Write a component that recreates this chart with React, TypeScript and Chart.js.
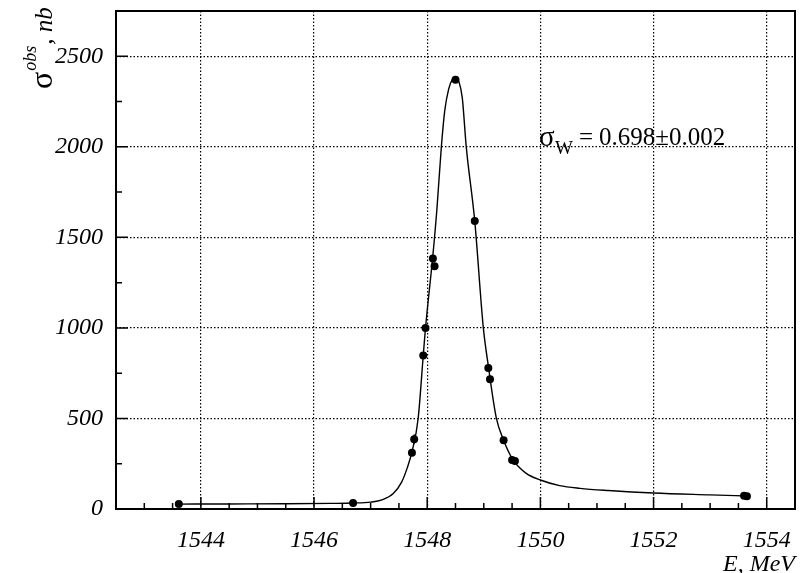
import React, { useEffect, useRef } from "react";
import { Chart, registerables } from "chart.js";

Chart.register(...registerables);

// Measured points (E in MeV, observed cross section in nb)
const pointEnergy = [1543.61, 1546.69, 1547.73, 1547.77, 1547.93, 1547.97, 1548.1, 1548.13, 1548.5, 1548.84, 1549.08, 1549.11, 1549.35, 1549.5, 1549.55, 1553.6, 1553.65];
const pointSigma = [28, 33, 311, 385, 848, 1000, 1383, 1341, 2371, 1591, 778, 717, 379, 270, 265, 73, 71];
const pointError = [3, 3, 12, 28, 14, 15, 15, 15, 15, 15, 12, 12, 10, 8, 8, 4, 4];

// Fitted curve
const curveEnergy = [1543.61, 1544.5, 1545.5, 1546.3, 1546.69, 1547.0, 1547.2, 1547.4, 1547.55, 1547.65, 1547.73, 1547.84, 1547.93, 1547.97, 1548.1, 1548.17, 1548.25, 1548.31, 1548.38, 1548.44, 1548.5, 1548.56, 1548.62, 1548.69, 1548.84, 1548.99, 1549.08, 1549.22, 1549.35, 1549.52, 1549.75, 1550.0, 1550.34, 1550.7, 1551.2, 1552.0, 1553.0, 1553.65];
const curveSigma = [27, 28, 29, 31, 33, 38, 50, 85, 150, 230, 315, 500, 848, 1000, 1400, 1650, 2000, 2200, 2320, 2370, 2382, 2360, 2270, 2000, 1591, 1006, 790, 505, 380, 270, 197, 160, 129, 114, 102, 88, 78, 72];

// Axes
const xMajorTicks = [1544, 1546, 1548, 1550, 1552, 1554];
const xMinorTicks = [1542.5, 1543, 1543.5, 1544.5, 1545, 1545.5, 1546.5, 1547, 1547.5, 1548.5, 1549, 1549.5, 1550.5, 1551, 1551.5, 1552.5, 1553, 1553.5, 1554.5];
const yMajorTicks = [0, 500, 1000, 1500, 2000, 2500];
const yMinorTicks = [250, 750, 1250, 1750, 2250];
const xMin = 1542.5;
const xMax = 1554.5;
const yMin = 0;
const yMax = 2750;

const xTitle = "E, MeV";
const annotationValue = "0.698\u00B10.002";

const SERIF = '"Liberation Serif", "DejaVu Serif", serif';

const decorPlugin = {
  id: "decor",
  afterDatasetsDraw(chart: any) {
    const { ctx } = chart;
    const xs = chart.scales.x;
    const ys = chart.scales.y;
    ctx.save();
    ctx.strokeStyle = "#000";
    ctx.lineWidth = 1.2;
    for (let i = 0; i < pointEnergy.length; i++) {
      const px = xs.getPixelForValue(pointEnergy[i]);
      const y1 = ys.getPixelForValue(pointSigma[i] - pointError[i]);
      const y2 = ys.getPixelForValue(pointSigma[i] + pointError[i]);
      ctx.beginPath();
      ctx.moveTo(px, y1);
      ctx.lineTo(px, y2);
      ctx.stroke();
    }
    ctx.restore();
  },
  afterDraw(chart: any) {
    const { ctx, chartArea: a } = chart;
    const xs = chart.scales.x;
    const ys = chart.scales.y;
    ctx.save();
    ctx.strokeStyle = "#000";
    ctx.lineWidth = 1.5;
    ctx.setLineDash([]);
    const majorLen = 12;
    const minorLen = 6;
    ctx.beginPath();
    xMajorTicks.forEach((v) => {
      const p = xs.getPixelForValue(v);
      ctx.moveTo(p, a.bottom);
      ctx.lineTo(p, a.bottom - majorLen);
    });
    xMinorTicks.forEach((v) => {
      const p = xs.getPixelForValue(v);
      ctx.moveTo(p, a.bottom);
      ctx.lineTo(p, a.bottom - minorLen);
    });
    yMajorTicks.forEach((v) => {
      const p = ys.getPixelForValue(v);
      ctx.moveTo(a.left, p);
      ctx.lineTo(a.left + majorLen, p);
    });
    yMinorTicks.forEach((v) => {
      const p = ys.getPixelForValue(v);
      ctx.moveTo(a.left, p);
      ctx.lineTo(a.left + minorLen, p);
    });
    ctx.stroke();

    // frame
    ctx.lineWidth = 2;
    ctx.strokeRect(a.left, a.top, a.right - a.left, a.bottom - a.top);

    // x axis title
    ctx.fillStyle = "#000";
    ctx.textAlign = "right";
    ctx.textBaseline = "alphabetic";
    ctx.font = `italic 24px ${SERIF}`;
    ctx.fillText(xTitle, a.right, 571);

    // y axis title (rotated)
    ctx.save();
    ctx.translate(52, 89);
    ctx.rotate(-Math.PI / 2);
    ctx.textAlign = "left";
    ctx.font = `32px ${SERIF}`;
    ctx.fillText("\u03C3", 0, 0);
    let w = ctx.measureText("\u03C3").width;
    ctx.font = `italic 18px ${SERIF}`;
    ctx.fillText("obs", w + 1, -16);
    w += ctx.measureText("obs").width + 2;
    ctx.font = `italic 25px ${SERIF}`;
    ctx.fillText(", nb", w, 0);
    ctx.restore();

    // annotation
    ctx.textAlign = "left";
    ctx.font = `29px ${SERIF}`;
    ctx.fillText("\u03C3", 539, 146);
    ctx.font = `19px ${SERIF}`;
    ctx.fillText("W", 555, 154);
    ctx.font = `25px ${SERIF}`;
    ctx.fillText("=", 579, 145);
    ctx.fillText(annotationValue, 599, 145);
    ctx.restore();
  },
};

export default function App() {
  const canvasRef = useRef<HTMLCanvasElement | null>(null);

  useEffect(() => {
    const canvas = canvasRef.current;
    if (!canvas) return;
    const chart = new Chart(canvas, {
      type: "scatter",
      data: {
        datasets: [
          {
            label: "fit",
            data: curveEnergy.map((e, i) => ({ x: e, y: curveSigma[i] })),
            showLine: true,
            borderColor: "#000",
            borderWidth: 1.4,
            pointRadius: 0,
            cubicInterpolationMode: "monotone",
            fill: false,
          },
          {
            label: "data",
            data: pointEnergy.map((e, i) => ({ x: e, y: pointSigma[i] })),
            showLine: false,
            pointRadius: 4,
            pointBackgroundColor: "#000",
            pointBorderColor: "#000",
            pointBorderWidth: 0,
          },
        ],
      },
      options: {
        animation: false,
        responsive: false,
        devicePixelRatio: 1,
        layout: { padding: { top: 11, right: 8, left: 0, bottom: 0 } },
        plugins: {
          legend: { display: false },
          tooltip: { enabled: false },
        },
        scales: {
          x: {
            type: "linear",
            min: xMin,
            max: xMax,
            afterBuildTicks: (s: any) => {
              s.ticks = xMajorTicks.map((v) => ({ value: v }));
            },
            afterFit: (s: any) => {
              s.height = 64;
              s.paddingLeft = 0;
              s.paddingRight = 0;
              s.paddingTop = 0;
              s.paddingBottom = 0;
            },
            grid: {
              color: "#000",
              lineWidth: 1.2,
              drawTicks: false,
            },
            border: { display: false, dash: [1.5, 2] },
            ticks: {
              color: "#000",
              padding: 17,
              maxRotation: 0,
              autoSkip: false,
              font: { family: SERIF, size: 24, style: "italic" },
              callback: (v: any) => String(v),
            },
          },
          y: {
            type: "linear",
            min: yMin,
            max: yMax,
            afterBuildTicks: (s: any) => {
              s.ticks = yMajorTicks.map((v) => ({ value: v }));
            },
            afterFit: (s: any) => {
              s.width = 116;
              s.paddingLeft = 0;
              s.paddingRight = 0;
              s.paddingTop = 0;
              s.paddingBottom = 0;
            },
            grid: {
              color: "#000",
              lineWidth: 1.2,
              drawTicks: false,
            },
            border: { display: false, dash: [1.5, 2] },
            ticks: {
              color: "#000",
              padding: 13,
              autoSkip: false,
              font: { family: SERIF, size: 24, style: "italic" },
              callback: (v: any) => String(v),
            },
          },
        },
      },
      plugins: [decorPlugin],
    } as any);
    return () => chart.destroy();
  }, []);

  return (
    <div style={{ position: "fixed", left: 0, top: 0, width: 803, height: 573, background: "#fff" }}>
      <canvas ref={canvasRef} width={803} height={573} style={{ display: "block", width: 803, height: 573 }} />
    </div>
  );
}
